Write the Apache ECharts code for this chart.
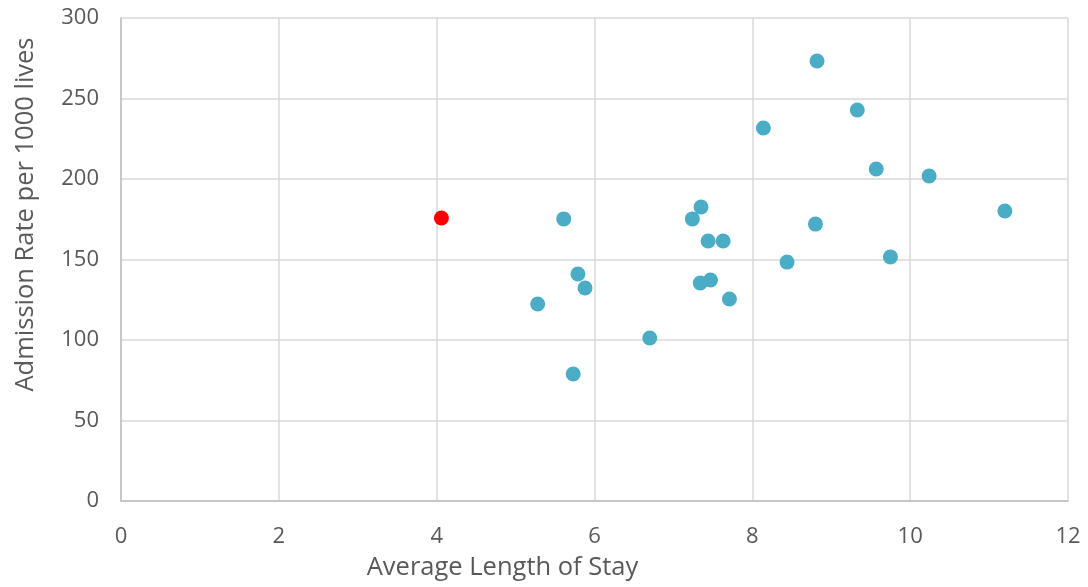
<!DOCTYPE html>
<html><head><meta charset="utf-8">
<script src="https://cdn.jsdelivr.net/npm/echarts@6/dist/echarts.min.js"></script>
<style>html,body{margin:0;padding:0;background:#fff}#c{width:1088px;height:587px}</style>
</head><body><div id="c"></div>
<script>
const highlightLOS = [4.06];
const highlightRate = [175.8];
const losValues = [5.28, 5.61, 5.73, 5.79, 5.88, 6.70, 7.24, 7.35, 7.44, 7.34, 7.47, 7.63, 7.71, 8.14, 8.44, 8.80, 8.82, 9.33, 9.57, 9.75, 10.24, 11.20];
const rateValues = [122.4, 175.2, 78.9, 141.0, 132.3, 101.2, 175.2, 182.6, 161.5, 135.4, 137.3, 161.5, 125.5, 231.7, 148.4, 172.0, 273.3, 242.9, 206.2, 151.6, 201.9, 180.1];
const xTitle = 'Average Length of Stay';
const yTitle = 'Admission Rate per 1000 lives';

const font = '"Open Sans", "Noto Sans", sans-serif';
const chart = echarts.init(document.getElementById('c'));
chart.setOption({
  animation: false,
  grid: {left: 121, right: 20, top: 18, bottom: 86},
  xAxis: {
    type: 'value', min: 0, max: 12, interval: 2,
    name: xTitle, nameLocation: 'middle', nameGap: 54,
    nameTextStyle: {color: '#595959', fontSize: 25.5, fontFamily: font, padding: [0, 184, 0, 0]},
    axisLine: {show: true, lineStyle: {color: '#BFBFBF', width: 1.5}},
    axisTick: {show: false},
    axisLabel: {color: '#595959', fontSize: 22, fontFamily: font, margin: 25},
    splitLine: {show: true, lineStyle: {color: '#D9D9D9', width: 1.5}}
  },
  yAxis: {
    type: 'value', min: 0, max: 300, interval: 50,
    name: yTitle, nameLocation: 'middle', nameGap: 82, nameRotate: 90,
    nameTextStyle: {color: '#595959', fontSize: 25.5, fontFamily: font, padding: [0, 0, 0, 90]},
    axisLine: {show: true, lineStyle: {color: '#BFBFBF', width: 1.5}},
    axisTick: {show: false},
    axisLabel: {color: '#595959', fontSize: 22, fontFamily: font, margin: 22},
    splitLine: {show: true, lineStyle: {color: '#D9D9D9', width: 1.5}}
  },
  series: [
    {type: 'scatter', symbolSize: 15, itemStyle: {color: '#4BACC6', opacity: 1},
     data: losValues.map((v, i) => [v, rateValues[i]])},
    {type: 'scatter', symbolSize: 15, itemStyle: {color: '#FF0000', opacity: 1},
     data: highlightLOS.map((v, i) => [v, highlightRate[i]])}
  ]
});
</script></body></html>
